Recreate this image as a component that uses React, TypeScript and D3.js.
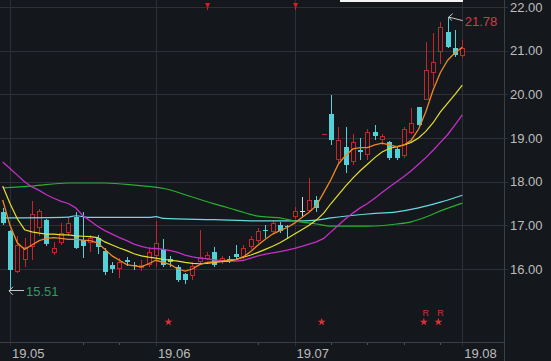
import React from "react";
import * as d3 from "d3";

const dates = [
  "2019-04-30",
  "2019-05-06","2019-05-07","2019-05-08","2019-05-09","2019-05-10",
  "2019-05-13","2019-05-14","2019-05-15","2019-05-16","2019-05-17",
  "2019-05-20","2019-05-21","2019-05-22","2019-05-23","2019-05-24",
  "2019-05-27","2019-05-28","2019-05-29","2019-05-30","2019-05-31",
  "2019-06-03","2019-06-04","2019-06-05","2019-06-06",
  "2019-06-10","2019-06-11","2019-06-12","2019-06-13","2019-06-14",
  "2019-06-17","2019-06-18","2019-06-19","2019-06-20","2019-06-21",
  "2019-06-24","2019-06-25","2019-06-26","2019-06-27","2019-06-28",
  "2019-07-01","2019-07-02","2019-07-03","2019-07-04","2019-07-05",
  "2019-07-08","2019-07-09","2019-07-10","2019-07-11","2019-07-12",
  "2019-07-15","2019-07-16","2019-07-17","2019-07-18","2019-07-19",
  "2019-07-22","2019-07-23","2019-07-24","2019-07-25","2019-07-26",
  "2019-07-29","2019-07-30","2019-07-31",
  "2019-08-01",
];

const opens = [
  17.30, 16.87, 15.93, 16.20, 16.50, 16.95, 17.12, 16.37, 16.60, 16.83,
  17.20, 16.66, 16.60, 16.70, 16.42, 16.10, 16.00, 16.20, 16.10, 16.02,
  16.10, 16.30, 16.45, 16.22, 16.05, 15.88, 15.85, 16.15, 16.23, 16.38,
  16.15, 16.22, 16.35, 16.27, 16.50, 16.65, 16.90, 16.85, 17.00, 16.98,
  17.20, 17.33, 17.33, 17.57, 19.10, 19.55, 18.50, 18.80, 18.45, 18.73,
  18.60, 19.14, 18.95, 18.90, 18.75, 18.58, 19.12, 19.70, 19.87, 20.50,
  20.97, 21.42, 21.05, 20.87,
];
const highs = [
  17.40, 16.90, 16.75, 16.70, 17.55, 17.38, 17.15, 16.62, 17.05, 17.20,
  17.30, 17.30, 16.78, 16.78, 16.48, 16.15, 16.25, 16.28, 16.15, 16.20,
  16.50, 17.10, 16.68, 16.30, 16.10, 15.90, 16.15, 16.90, 16.38, 16.50,
  16.30, 16.30, 16.55, 16.55, 16.75, 16.95, 17.00, 17.13, 17.08, 17.00,
  17.42, 17.65, 18.08, 17.68, 19.10, 19.98, 19.25, 19.25, 19.10, 19.00,
  19.20, 19.30, 19.10, 18.92, 18.80, 19.25, 19.68, 19.72, 21.20, 21.40,
  21.65, 21.78, 21.47, 21.25,
];
const lows = [
  17.00, 15.51, 15.90, 16.05, 16.20, 16.75, 16.52, 16.33, 16.55, 16.75,
  16.45, 16.25, 16.40, 16.35, 15.87, 15.90, 15.80, 16.08, 15.98, 15.95,
  16.05, 16.05, 16.05, 16.05, 15.70, 15.65, 15.75, 16.12, 16.20, 16.05,
  16.12, 16.13, 16.23, 16.22, 16.45, 16.60, 16.72, 16.82, 16.82, 16.68,
  17.15, 17.18, 17.30, 17.30, 19.10, 18.84, 18.43, 18.20, 18.38, 18.50,
  18.50, 18.95, 18.85, 18.50, 18.50, 18.55, 19.10, 19.25, 19.87, 20.20,
  20.70, 21.05, 20.85, 20.83,
];
const closes = [
  17.05, 15.97, 16.55, 16.50, 17.27, 17.32, 16.57, 16.48, 16.83, 17.06,
  16.48, 16.53, 16.70, 16.50, 15.93, 16.00, 16.15, 16.15, 16.06, 16.10,
  16.40, 16.60, 16.10, 16.15, 15.75, 15.75, 16.07, 16.27, 16.32, 16.10,
  16.25, 16.18, 16.27, 16.48, 16.68, 16.88, 16.86, 17.05, 16.88, 16.96,
  17.33, 17.33, 17.57, 17.40, 19.10, 18.95, 18.95, 18.38, 18.90, 18.68,
  19.13, 19.05, 19.05, 18.55, 18.55, 19.20, 19.35, 19.30, 20.55, 20.75,
  21.55, 21.08, 20.90, 21.07,
];

// orange (short MA), read per bar
const maOrange = [
  17.58, 17.00, 16.60, 16.45, 16.55, 16.65, 16.70, 16.72, 16.70, 16.68,
  16.68, 16.66, 16.65, 16.60, 16.45, 16.30, 16.20, 16.10, 16.07, 16.05,
  16.12, 16.20, 16.15, 16.10, 16.00, 15.95, 16.00, 16.10, 16.15, 16.17,
  16.18, 16.20, 16.22, 16.28, 16.40, 16.55, 16.68, 16.80, 16.88, 16.95,
  17.05, 17.18, 17.30, 17.45, 17.75, 18.05, 18.40, 18.60, 18.75, 18.78,
  18.78, 18.84, 18.88, 18.84, 18.80, 18.84, 18.95, 19.20, 19.60, 20.10,
  20.50, 20.78, 20.95, 21.08,
];
// yellow
const maYellow = [
  17.90, 17.50, 17.15, 16.90, 16.85, 16.82, 16.80, 16.80, 16.78, 16.78,
  16.76, 16.75, 16.74, 16.72, 16.62, 16.55, 16.48, 16.42, 16.35, 16.30,
  16.27, 16.25, 16.22, 16.20, 16.18, 16.15, 16.13, 16.12, 16.13, 16.15,
  16.17, 16.18, 16.22, 16.27, 16.32, 16.38, 16.45, 16.52, 16.60, 16.70,
  16.80, 16.90, 17.00, 17.12, 17.28, 17.50, 17.70, 17.90, 18.08, 18.25,
  18.40, 18.55, 18.68, 18.76, 18.80, 18.84, 18.90, 19.00, 19.15, 19.35,
  19.60, 19.80, 20.00, 20.21,
];
// magenta
const maMagenta = [
  18.45, 18.30, 18.15, 18.00, 17.88, 17.80, 17.70, 17.62, 17.55, 17.50,
  17.40, 17.22, 17.10, 16.98, 16.88, 16.80, 16.72, 16.65, 16.57, 16.52,
  16.48, 16.47, 16.45, 16.42, 16.38, 16.32, 16.28, 16.25, 16.23, 16.21,
  16.19, 16.18, 16.18, 16.20, 16.25, 16.30, 16.34, 16.37, 16.40, 16.43,
  16.47, 16.52, 16.57, 16.62, 16.70, 16.85, 17.00, 17.15, 17.28, 17.40,
  17.50, 17.62, 17.75, 17.88, 18.00, 18.12, 18.25, 18.40, 18.55, 18.72,
  18.90, 19.08, 19.30, 19.53,
];
// green long MA, read at selected bars
const greenIdx = [0, 4, 9, 14, 18, 23, 25, 29, 32, 35, 38, 40, 43, 45, 50, 54, 56, 58, 60, 63];
const greenVal = [17.86, 17.90, 17.97, 17.97, 17.92, 17.81, 17.70, 17.49, 17.35, 17.21, 17.17, 17.10, 17.03, 16.98, 16.98, 17.03, 17.08, 17.19, 17.33, 17.51];
// cyan long MA, read at selected bars
const cyanIdx = [0, 9, 10, 12, 20, 21, 22, 29, 35, 40, 43, 45, 50, 54, 57, 60, 63];
const cyanVal = [17.17, 17.19, 17.22, 17.18, 17.18, 17.20, 17.16, 17.13, 17.10, 17.10, 17.12, 17.17, 17.26, 17.31, 17.40, 17.53, 17.69];

const priceTicks = [16, 17, 18, 19, 20, 21, 22];
const weekTickDates = ["2019-05-20", "2019-05-27", "2019-06-24", "2019-07-08", "2019-07-15", "2019-07-22", "2019-07-29"];
const starDates = ["2019-06-05", "2019-07-05", "2019-07-25", "2019-07-29"];
const rDates = ["2019-07-25", "2019-07-29"];
const flagDates = ["2019-06-13", "2019-07-01"];

const BG = "#14171c";
const RED = "#c8242c";
const CYAN = "#52d2d8";
const GRID = "#2d3137";
const TXT = "#bdbdbd";
const FONT = "'Liberation Sans', Arial, sans-serif";

export default function App() {
  const W = 551, H = 361;
  const plotRight = 504;
  const axisY = 342;
  const x = d3.scaleLinear().domain([0, dates.length - 1]).range([2.7, 462.3]);
  const y = d3.scaleLinear().domain([16, 22]).range([269, 7]);
  const idx = (d: string) => dates.indexOf(d);

  const monthIdx = dates
    .map((d, i) => ({ d, i }))
    .filter(({ d, i }) => i > 0 && d.slice(5, 7) !== dates[i - 1].slice(5, 7));

  const lineGen = d3.line<number>().x((_, i) => x(i)).y((d) => y(d));
  const sparseGen = (ids: number[]) =>
    d3.line<number>().x((_, k) => x(ids[k])).y((d) => y(d)).curve(d3.curveMonotoneX);

  const hiIdx = d3.maxIndex(highs);
  const loIdx = d3.minIndex(lows);
  const star = d3.symbol().type(d3.symbolStar).size(20)()!;

  const candles = dates.map((_, i) => {
    const o = opens[i], c = closes[i], h = highs[i], l = lows[i];
    const prev = i > 0 ? closes[i - 1] : o;
    let kind: "up" | "down" | "flat";
    if (c > o) kind = "up";
    else if (c < o) kind = "down";
    else kind = c > prev ? "up" : c < prev ? "down" : "flat";
    const cx = Math.round(x(i));
    const yTop = Math.round(y(Math.max(o, c)));
    const yBot = Math.round(y(Math.min(o, c)));
    const yH = Math.round(y(h));
    const yL = Math.round(y(l));
    const wx = cx + 0.5;
    if (kind === "up") {
      if (o === c) {
        return (
          <g key={i}>
            <line x1={cx - 2} x2={cx + 3} y1={yTop + 0.5} y2={yTop + 0.5} stroke={RED} strokeWidth={1} />
          </g>
        );
      }
      return (
        <g key={i}>
          <line x1={wx} x2={wx} y1={yH} y2={yTop} stroke={RED} />
          <line x1={wx} x2={wx} y1={yBot} y2={yL} stroke={RED} />
          <rect x={cx - 1.5} y={yTop + 0.5} width={4} height={Math.max(1, yBot - yTop - 1)} fill={BG} stroke={RED} strokeWidth={1} />
        </g>
      );
    }
    if (kind === "down") {
      return (
        <g key={i}>
          <line x1={wx} x2={wx} y1={yH} y2={yL} stroke={CYAN} />
          <rect x={cx - 2} y={yTop} width={5} height={Math.max(1, yBot - yTop)} fill={CYAN} />
        </g>
      );
    }
    return (
      <g key={i}>
        <line x1={wx} x2={wx} y1={yH} y2={yL} stroke="#d8d8d8" />
        <line x1={cx - 2} x2={cx + 3} y1={yTop + 0.5} y2={yTop + 0.5} stroke="#d8d8d8" />
      </g>
    );
  });

  return (
    <svg width={W} height={H} style={{ position: "absolute", left: 0, top: 0, background: BG }} fontFamily={FONT}>
      <rect x={0} y={0} width={W} height={H} fill={BG} />
      <defs>
        <clipPath id="plot">
          <rect x={0} y={0} width={plotRight} height={axisY} />
        </clipPath>
      </defs>
      {/* horizontal grid */}
      {priceTicks.map((p) => (
        <g key={p}>
          <line x1={0} x2={plotRight + 4} y1={Math.round(y(p)) + 0.5} y2={Math.round(y(p)) + 0.5} stroke={GRID} />
          <text x={510} y={y(p)} dy="0.36em" fill={TXT} fontSize={13}>
            {p.toFixed(2)}
          </text>
        </g>
      ))}
      {/* vertical month lines */}
      {monthIdx.map(({ d, i }) => (
        <g key={d}>
          <line x1={Math.round(x(i)) + 0.5} x2={Math.round(x(i)) + 0.5} y1={0} y2={axisY + 4} stroke={GRID} />
          <text x={x(i) + 2} y={358} fill={TXT} fontSize={13}>
            {d.slice(2, 4) + "." + d.slice(5, 7)}
          </text>
        </g>
      ))}
      {/* week ticks */}
      {weekTickDates.map((d) => (
        <line key={d} x1={Math.round(x(idx(d))) + 0.5} x2={Math.round(x(idx(d))) + 0.5} y1={axisY} y2={axisY + 3} stroke="#4a4e55" />
      ))}
      {/* axes frame */}
      <line x1={plotRight + 0.5} x2={plotRight + 0.5} y1={0} y2={H} stroke="#3a3e45" />
      <line x1={0} x2={plotRight} y1={axisY + 0.5} y2={axisY + 0.5} stroke="#3a3e45" />

      <g clipPath="url(#plot)">
        {candles}
        <path d={sparseGen(cyanIdx)(cyanVal)!} fill="none" stroke="#66dbe4" strokeWidth={1.2} />
        <path d={sparseGen(greenIdx)(greenVal)!} fill="none" stroke="#26b22e" strokeWidth={1.2} />
        <path d={lineGen(maMagenta)!} fill="none" stroke="#c42fc8" strokeWidth={1.3} />
        <path d={lineGen(maYellow)!} fill="none" stroke="#e6e028" strokeWidth={1.2} />
        <path d={lineGen(maOrange)!} fill="none" stroke="#ee8a22" strokeWidth={1.3} />
      </g>

      {/* high marker */}
      <g>
        <line x1={x(hiIdx) + 1} y1={y(highs[hiIdx]) + 0.5} x2={x(hiIdx) + 15} y2={y(highs[hiIdx]) + 4} stroke="#c8c8c8" />
        <path d={`M${x(hiIdx) + 5},${y(highs[hiIdx]) - 3} L${x(hiIdx) + 1},${y(highs[hiIdx]) + 0.5} L${x(hiIdx) + 4},${y(highs[hiIdx]) + 4}`} fill="none" stroke="#c8c8c8" />
        <text x={x(hiIdx) + 17} y={y(highs[hiIdx]) + 5} dy="0.36em" fill="#d83a44" fontSize={13}>
          {highs[hiIdx].toFixed(2)}
        </text>
      </g>
      {/* low marker */}
      <g>
        <line x1={x(loIdx) - 1} y1={Math.round(y(lows[loIdx])) + 0.5} x2={x(loIdx) + 14} y2={Math.round(y(lows[loIdx])) + 0.5} stroke="#c8c8c8" />
        <path d={`M${x(loIdx) + 3},${y(lows[loIdx]) - 3.5} L${x(loIdx) - 1},${y(lows[loIdx]) + 0.5} L${x(loIdx) + 3},${y(lows[loIdx]) + 4.5}`} fill="none" stroke="#c8c8c8" />
        <text x={x(loIdx) + 16} y={y(lows[loIdx]) + 0.5} dy="0.36em" fill="#2f9c62" fontSize={13}>
          {lows[loIdx].toFixed(2)}
        </text>
      </g>

      {/* stars */}
      {starDates.map((d) => (
        <path key={d} d={star} transform={`translate(${x(idx(d)) - 2},${322})`} fill="#e0303a" />
      ))}
      {rDates.map((d) => (
        <text key={d} x={x(idx(d))} y={313} dy="0.36em" textAnchor="middle" fill="#d8303a" fontSize={9}>
          R
        </text>
      ))}
      {/* top flags */}
      {flagDates.map((d) => {
        const fx = Math.round(x(idx(d)));
        return <path key={d} d={`M${fx - 2},3 L${fx + 3},3 L${fx + 1},8 L${fx + 1},10 L${fx},10 L${fx},7 Z`} fill="#d01e2a" />;
      })}
      {/* tooltip box fragment */}
      <rect x={340} y={-10} width={123} height={12} fill="#f4f4f4" />
    </svg>
  );
}
